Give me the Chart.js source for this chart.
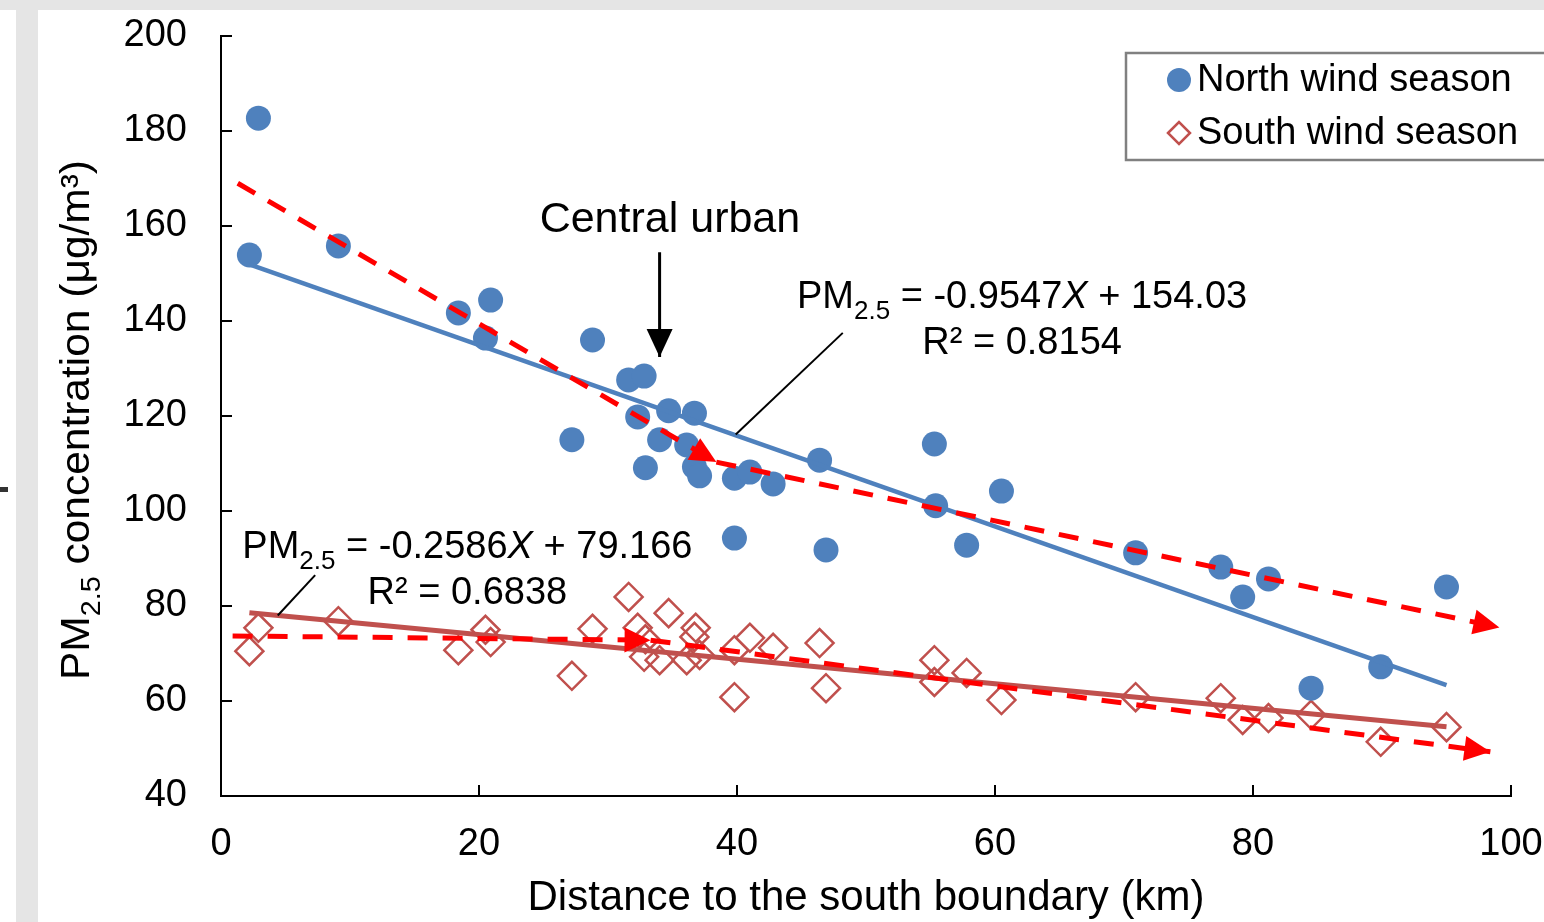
<!DOCTYPE html>
<html>
<head>
<meta charset="utf-8">
<script src="https://cdn.jsdelivr.net/npm/chart.js@4.4.1/dist/chart.umd.min.js"></script>
<style>
  html, body { margin: 0; padding: 0; background: #fff; }
  #wrap { position: relative; width: 1544px; height: 922px; }
</style>
</head>
<body>
<div id="wrap"><canvas id="chart"></canvas></div>
<script>
// Values: distance to the south boundary (km) and PM2.5 (µg/m3)
const northDistance = [2.9, 2.2, 9.1, 18.4, 20.9, 20.5, 28.8, 27.2, 31.6, 32.8, 32.3, 34.7, 36.7, 34.0, 36.1, 32.9, 36.7, 37.1,
  39.8, 41.0, 42.8, 39.8, 46.4, 46.9, 55.3, 55.4, 57.8, 60.5, 70.9, 77.5, 79.2, 81.2, 84.5, 89.9, 95.0]
const northPM = [182.7, 153.9, 155.8, 141.7, 144.4, 136.4, 136.0, 115.0, 127.6, 128.4, 119.8, 121.1, 120.6, 115.0, 113.9, 109.1, 109.3, 107.4,
  106.9, 108.2, 105.7, 94.3, 110.7, 91.8, 114.1, 101.1, 92.8, 104.2, 91.2, 88.2, 81.9, 85.7, 62.7, 67.2, 84.0]

const southDistance = [2.2, 2.9, 9.1, 18.4, 20.5, 20.9, 27.2, 28.8, 31.6, 32.3, 32.8, 32.9, 34.7, 36.8, 36.7, 34.0, 36.1, 37.1,
  39.8, 39.8, 41.0, 42.8, 46.4, 46.9, 55.3, 55.3, 57.8, 60.5, 70.9, 77.5, 79.2, 81.2, 84.5, 89.9, 95.0]
const southPM = [70.5, 75.4, 76.8, 70.7, 75.0, 72.4, 65.3, 75.2, 81.9, 75.4, 69.3, 73.0, 78.5, 75.4, 73.5, 68.6, 68.6, 69.7,
  70.7, 60.8, 73.3, 71.2, 72.2, 62.7, 68.6, 64.0, 65.9, 60.2, 60.8, 60.6, 56.0, 56.4, 57.1, 51.4, 54.5]

// Linear fits printed on the figure
const northFit = { slope: -0.9547, intercept: 154.03, r2: "0.8154", from: 2.2, to: 95.0 }
const southFit = { slope: -0.2586, intercept: 79.166, r2: "0.6838", from: 2.2, to: 95.0 }

// Hand-drawn annotation lines (data coordinates)
const northArrowA = [[1.3, 169.0], [38.4, 110.3]]
const northArrowB = [[38.4, 110.3], [99.1, 75.5]]
const southArrowA = [[0.9, 73.7], [33.3, 72.8]]
const southArrowB = [[33.3, 72.8], [98.4, 49.3]]
const urbanArrow = [[34.0, 154.5], [34.0, 132.4]]
const northLeader = [[48.2, 137.5], [39.9, 116.1]]
const southLeader = [[7.3, 86.5], [4.4, 78.0]]

const xTickValues = [0, 20, 40, 60, 80, 100]
const yTickValues = [40, 60, 80, 100, 120, 140, 160, 180, 200]

const FONT = '"Liberation Sans", Arial, sans-serif'
const BLUE = "#4f81bd"
const BROWN = "#c0504d"
const RED = "#ff0000"

const toPoints = (xs, ys) => xs.map((x, i) => ({ x, y: ys[i] }))
const pairPoints = (pairs) => pairs.map(([x, y]) => ({ x, y }))
const fitPoints = (fit) => [fit.from, fit.to].map((x) => ({ x, y: fit.slope * x + fit.intercept }))

const lineSet = (data, color, width, extra = {}) => ({
  data, showLine: true, borderColor: color, borderWidth: width,
  pointRadius: 0, pointHoverRadius: 0, fill: false, ...extra
})

const dashed = { borderDash: [20, 15], arrow: { len: 26, width: 25 }, order: 1 }

function drawRich(ctx, parts, cx, baseline, size) {
  const fontFor = (p) => `${p.italic ? "italic " : ""}${p.sub ? Math.round(size * 0.68) : size}px ${FONT}`
  const widths = parts.map((p) => {
    ctx.font = fontFor(p)
    return ctx.measureText(p.t).width
  })
  let x = cx - widths.reduce((a, b) => a + b, 0) / 2
  parts.forEach((p, i) => {
    ctx.font = fontFor(p)
    ctx.fillText(p.t, x, baseline + (p.sub ? size * 0.28 : 0))
    x += widths[i]
  })
}

const decor = {
  id: "decor",
  beforeDraw(chart) {
    const { ctx, width, height } = chart
    ctx.save()
    ctx.fillStyle = "#fff"
    ctx.fillRect(0, 0, width, height)
    ctx.fillStyle = "#e5e5e5"
    ctx.fillRect(0, 0, width, 10)
    ctx.fillRect(16, 0, 22, height)
    ctx.fillStyle = "#333"
    ctx.fillRect(0, 487, 8, 5)
    ctx.restore()
  },
  afterDatasetsDraw(chart) {
    const { ctx } = chart
    const xs = chart.scales.x, ys = chart.scales.y
    ctx.save()

    // arrow heads at the end of annotation lines
    chart.data.datasets.forEach((ds, i) => {
      if (!ds.arrow) return
      const pts = chart.getDatasetMeta(i).data
      const a = pts[pts.length - 2], b = pts[pts.length - 1]
      const ang = Math.atan2(b.y - a.y, b.x - a.x)
      const bx = b.x - ds.arrow.len * Math.cos(ang), by = b.y - ds.arrow.len * Math.sin(ang)
      const hw = ds.arrow.width / 2
      ctx.fillStyle = ds.borderColor
      ctx.beginPath()
      ctx.moveTo(b.x, b.y)
      ctx.lineTo(bx + hw * Math.sin(ang), by - hw * Math.cos(ang))
      ctx.lineTo(bx - hw * Math.sin(ang), by + hw * Math.cos(ang))
      ctx.closePath()
      ctx.fill()
    })

    ctx.fillStyle = "#000"
    ctx.font = `43px ${FONT}`
    ctx.textAlign = "center"
    ctx.textBaseline = "middle"
    ctx.fillText("Central urban", xs.getPixelForValue(34.8), ys.getPixelForValue(161.3))
    ctx.textAlign = "left"
    ctx.textBaseline = "alphabetic"

    const eq = (fit, cx, y1, y2) => {
      const sign = fit.slope < 0 ? "-" : ""
      drawRich(ctx, [
        { t: "PM" }, { t: "2.5", sub: true },
        { t: ` = ${sign}${Math.abs(fit.slope)}` }, { t: "X", italic: true }, { t: ` + ${fit.intercept}` }
      ], xs.getPixelForValue(cx), ys.getPixelForValue(y1), 38)
      drawRich(ctx, [{ t: `R² = ${fit.r2}` }], xs.getPixelForValue(cx), ys.getPixelForValue(y2), 38)
    }
    eq(northFit, 62.1, 142.7, 133.1)
    eq(southFit, 19.1, 90.1, 80.4)
    ctx.restore()
  },
  afterDraw(chart) {
    const { ctx, chartArea } = chart
    ctx.save()

    // legend box
    ctx.strokeStyle = "#808080"
    ctx.lineWidth = 2.5
    ctx.strokeRect(1126, 53, 430, 107)
    ctx.fillStyle = BLUE
    ctx.beginPath()
    ctx.arc(1179, 80, 12, 0, Math.PI * 2)
    ctx.fill()
    ctx.strokeStyle = BROWN
    ctx.lineWidth = 2.5
    ctx.beginPath()
    ctx.moveTo(1168, 133); ctx.lineTo(1179, 122); ctx.lineTo(1190, 133); ctx.lineTo(1179, 144)
    ctx.closePath()
    ctx.stroke()
    ctx.fillStyle = "#000"
    ctx.font = `38px ${FONT}`
    ctx.textBaseline = "middle"
    ctx.fillText("North wind season", 1197, 81)
    ctx.fillText("South wind season", 1197, 134)

    // x axis title
    ctx.textAlign = "center"
    ctx.font = `42px ${FONT}`
    ctx.fillText("Distance to the south boundary (km)", (chartArea.left + chartArea.right) / 2, 898)

    // y axis title with subscript
    const size = 40
    const parts = [{ t: "PM" }, { t: "2.5", sub: true }, { t: " concentration (μg/m³)" }]
    ctx.translate(75, 420)
    ctx.rotate(-Math.PI / 2)
    let total = 0
    parts.forEach((p) => {
      ctx.font = `${p.sub ? Math.round(size * 0.68) : size}px ${FONT}`
      total += ctx.measureText(p.t).width
    })
    ctx.scale(520 / total, 1)
    ctx.textBaseline = "alphabetic"
    ctx.textAlign = "left"
    let x = -total / 2
    parts.forEach((p) => {
      ctx.font = `${p.sub ? Math.round(size * 0.68) : size}px ${FONT}`
      ctx.fillText(p.t, x, 14 + (p.sub ? size * 0.28 : 0))
      x += ctx.measureText(p.t).width
    })
    ctx.restore()
  }
}

new Chart(document.getElementById("chart"), {
  type: "scatter",
  data: {
    datasets: [
      { label: "North wind season", data: toPoints(northDistance, northPM), pointStyle: "circle", pointRadius: 12.5,
        pointHoverRadius: 12.5, backgroundColor: BLUE, borderColor: BLUE, borderWidth: 0, order: 5 },
      { label: "South wind season", data: toPoints(southDistance, southPM), pointStyle: "rectRot", pointRadius: 14,
        pointHoverRadius: 14, backgroundColor: "rgba(0,0,0,0)", borderColor: BROWN, borderWidth: 2.5, order: 5 },
      lineSet(fitPoints(northFit), BLUE, 4.5, { order: 3 }),
      lineSet(fitPoints(southFit), BROWN, 5, { order: 3 }),
      lineSet(pairPoints(northArrowA), RED, 5, dashed),
      lineSet(pairPoints(northArrowB), RED, 5, dashed),
      lineSet(pairPoints(southArrowA), RED, 5, dashed),
      lineSet(pairPoints(southArrowB), RED, 5, dashed),
      lineSet(pairPoints(urbanArrow), "#000", 3, { arrow: { len: 28, width: 26 }, order: 1 }),
      lineSet(pairPoints(northLeader), "#000", 2, { order: 1 }),
      lineSet(pairPoints(southLeader), "#000", 2, { order: 1 })
    ]
  },
  options: {
    responsive: true,
    maintainAspectRatio: false,
    animation: false,
    events: [],
    layout: { padding: { top: 36, right: 33, bottom: 0, left: 0 } },
    plugins: { legend: { display: false }, tooltip: { enabled: false } },
    scales: {
      x: {
        type: "linear", min: 0, max: 100,
        afterBuildTicks: (scale) => { scale.ticks = xTickValues.map((value) => ({ value })) },
        afterFit: (scale) => {
          scale.height = 126
          scale.paddingLeft = 0
          scale.paddingRight = 0
        },
        border: { color: "#000", width: 2 },
        grid: { drawOnChartArea: false, color: "#000", lineWidth: 2, tickLength: -11 },
        ticks: { color: "#000", padding: 37, maxRotation: 0, font: { family: FONT, size: 38 } }
      },
      y: {
        type: "linear", min: 40, max: 200,
        afterBuildTicks: (scale) => { scale.ticks = yTickValues.map((value) => ({ value })) },
        afterFit: (scale) => {
          scale.width = 221
          scale.paddingTop = 0
          scale.paddingBottom = 0
        },
        border: { color: "#000", width: 2 },
        grid: { drawOnChartArea: false, color: "#000", lineWidth: 2, tickLength: -11 },
        ticks: { color: "#000", padding: 45, font: { family: FONT, size: 38 } }
      }
    }
  },
  plugins: [decor]
})
</script>
</body>
</html>
